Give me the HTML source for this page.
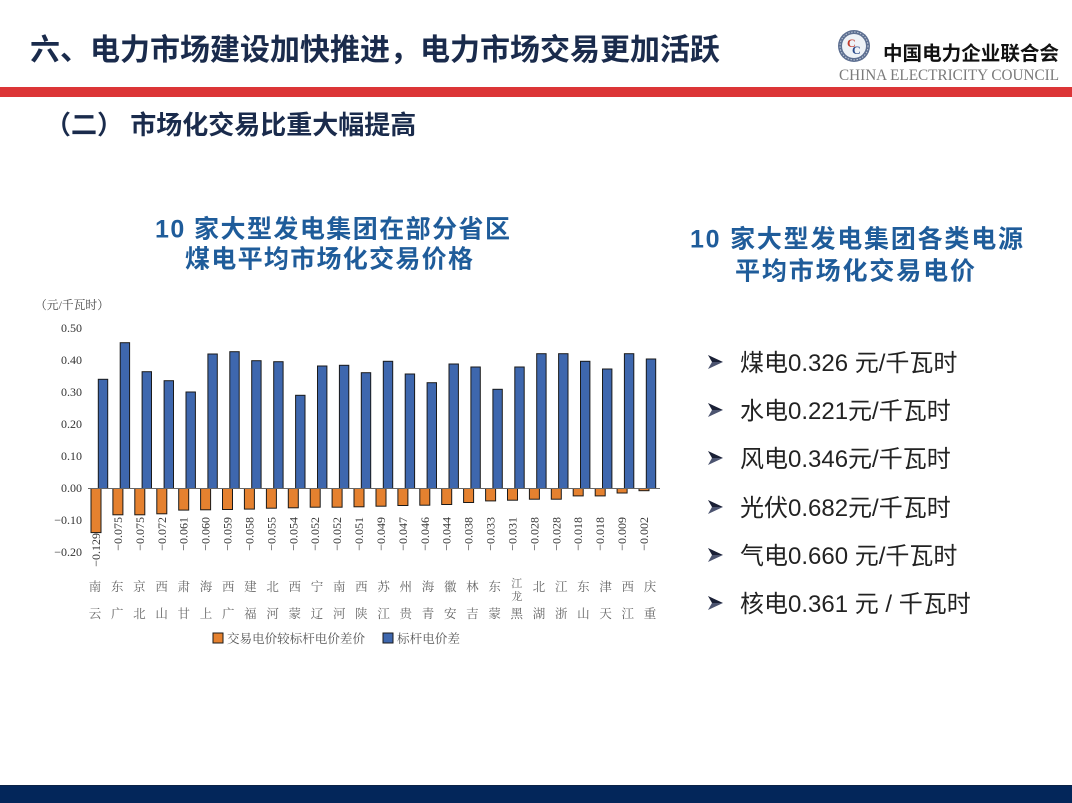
<!DOCTYPE html>
<html><head><meta charset="utf-8"><style>
html,body{margin:0;padding:0;background:#fff;}
svg{display:block;}
.t{font-family:"Liberation Sans","Noto Sans CJK SC",sans-serif;font-weight:bold;}
.s{font-family:"Liberation Serif","Noto Serif CJK SC",serif;}
.yl{font-family:"Liberation Serif",serif;font-size:12px;fill:#333;text-anchor:end;}
.vl{font-family:"Liberation Serif",serif;font-size:12px;fill:#333;text-anchor:end;dominant-baseline:central;}
.cl{font-family:"Noto Serif CJK SC","Liberation Serif",serif;font-size:12.5px;fill:#666;text-anchor:middle;}
.b{fill:#3e67ae;stroke:#1a1a1a;stroke-width:1;}
.o{fill:#e5812f;stroke:#1a1a1a;stroke-width:1;}
.li{font-family:"Liberation Sans","Noto Sans CJK SC",sans-serif;font-size:24px;fill:#222;}
</style></head><body>
<svg width="1072" height="803" viewBox="0 0 1072 803" xmlns="http://www.w3.org/2000/svg">
<rect width="1072" height="803" fill="#fff"/>
<!-- header -->
<text class="t" x="30" y="60" font-size="30" fill="#1a2b4c" textLength="690" lengthAdjust="spacingAndGlyphs">六、电力市场建设加快推进，电力市场交易更加活跃</text>
<!-- logo -->
<circle cx="854" cy="46" r="16" fill="#5d6f91"/>
<circle cx="854" cy="46" r="12" fill="#eef2f7"/>
<circle cx="854" cy="46" r="14" fill="none" stroke="#c9d2e0" stroke-width="0.9" stroke-dasharray="1.5 1.5"/>
<text x="847" y="47" font-family="Liberation Serif,serif" font-size="12" fill="#c0392b" font-weight="bold">C</text>
<text x="852" y="54" font-family="Liberation Serif,serif" font-size="12" fill="#2a4a8a" font-weight="bold">C</text>
<text class="t" x="883" y="60" font-size="19.5" fill="#111" textLength="176" lengthAdjust="spacingAndGlyphs">中国电力企业联合会</text>
<text x="839" y="80" font-family="Liberation Serif,serif" font-size="16" fill="#7a7a7a" textLength="220" lengthAdjust="spacingAndGlyphs">CHINA ELECTRICITY COUNCIL</text>
<rect x="0" y="87" width="1072" height="10" fill="#dc3537"/>
<text class="t" x="45" y="134" font-size="26" fill="#1a2b4c">（二） 市场化交易比重大幅提高</text>

<!-- left chart title -->
<text class="t" x="155" y="237.5" font-size="25" fill="#1f5c9a" textLength="355" lengthAdjust="spacing">10 家大型发电集团在部分省区</text>
<text class="t" x="185" y="267.5" font-size="25" fill="#1f5c9a" textLength="288" lengthAdjust="spacing">煤电平均市场化交易价格</text>

<!-- right title -->
<text class="t" x="690" y="247.5" font-size="25" fill="#1f5c9a" textLength="333" lengthAdjust="spacing">10 家大型发电集团各类电源</text>
<text class="t" x="735" y="279.5" font-size="25" fill="#1f5c9a" textLength="240" lengthAdjust="spacing">平均市场化交易电价</text>

<!-- right list -->
<g>
<polygon points="708,355 723,362 712,362" fill="#1a2036"/><polygon points="708,369 723,362 712,362" fill="#4c5470"/>
<text class="li" x="740" y="371">煤电0.326 元/千瓦时</text>
<polygon points="708,403 723,410 712,410" fill="#1a2036"/><polygon points="708,417 723,410 712,410" fill="#4c5470"/>
<text class="li" x="740" y="419">水电0.221元/千瓦时</text>
<polygon points="708,451 723,458 712,458" fill="#1a2036"/><polygon points="708,465 723,458 712,458" fill="#4c5470"/>
<text class="li" x="740" y="467">风电0.346元/千瓦时</text>
<polygon points="708,500 723,507 712,507" fill="#1a2036"/><polygon points="708,514 723,507 712,507" fill="#4c5470"/>
<text class="li" x="740" y="516">光伏0.682元/千瓦时</text>
<polygon points="708,548 723,555 712,555" fill="#1a2036"/><polygon points="708,562 723,555 712,555" fill="#4c5470"/>
<text class="li" x="740" y="564">气电0.660 元/千瓦时</text>
<polygon points="708,596 723,603 712,603" fill="#1a2036"/><polygon points="708,610 723,603 712,603" fill="#4c5470"/>
<text class="li" x="740" y="612">核电0.361 元 / 千瓦时</text>
</g>

<!-- chart -->
<text class="s" x="35" y="309" font-size="12" fill="#444" textLength="74" lengthAdjust="spacingAndGlyphs">（元/千瓦时）</text>
<text class="yl" x="82" y="332">0.50</text>
<text class="yl" x="82" y="364">0.40</text>
<text class="yl" x="82" y="396">0.30</text>
<text class="yl" x="82" y="428">0.20</text>
<text class="yl" x="82" y="460">0.10</text>
<text class="yl" x="82" y="492">0.00</text>
<text class="yl" x="82" y="524">−0.10</text>
<text class="yl" x="82" y="556">−0.20</text>

<!-- blue bars -->
<rect class="b" x="98.3" y="379.3" width="9.4" height="109.2"/>
<rect class="b" x="120.2" y="342.7" width="9.4" height="145.8"/>
<rect class="b" x="142.1" y="371.7" width="9.4" height="116.8"/>
<rect class="b" x="164.1" y="380.7" width="9.4" height="107.8"/>
<rect class="b" x="186.0" y="392.0" width="9.4" height="96.5"/>
<rect class="b" x="207.9" y="354.0" width="9.4" height="134.5"/>
<rect class="b" x="229.8" y="351.7" width="9.4" height="136.8"/>
<rect class="b" x="251.7" y="360.7" width="9.4" height="127.8"/>
<rect class="b" x="273.7" y="361.7" width="9.4" height="126.8"/>
<rect class="b" x="295.6" y="395.3" width="9.4" height="93.2"/>
<rect class="b" x="317.5" y="366.0" width="9.4" height="122.5"/>
<rect class="b" x="339.4" y="365.3" width="9.4" height="123.2"/>
<rect class="b" x="361.3" y="372.7" width="9.4" height="115.8"/>
<rect class="b" x="383.3" y="361.3" width="9.4" height="127.2"/>
<rect class="b" x="405.2" y="374.0" width="9.4" height="114.5"/>
<rect class="b" x="427.1" y="382.7" width="9.4" height="105.8"/>
<rect class="b" x="449.0" y="364.0" width="9.4" height="124.5"/>
<rect class="b" x="470.9" y="367.0" width="9.4" height="121.5"/>
<rect class="b" x="492.9" y="389.3" width="9.4" height="99.2"/>
<rect class="b" x="514.8" y="367.0" width="9.4" height="121.5"/>
<rect class="b" x="536.7" y="353.7" width="9.4" height="134.8"/>
<rect class="b" x="558.6" y="353.7" width="9.4" height="134.8"/>
<rect class="b" x="580.5" y="361.3" width="9.4" height="127.2"/>
<rect class="b" x="602.5" y="369.0" width="9.4" height="119.5"/>
<rect class="b" x="624.4" y="353.7" width="9.4" height="134.8"/>
<rect class="b" x="646.3" y="359.0" width="9.4" height="129.5"/>

<!-- orange bars -->
<rect class="o" x="91.0" y="488.5" width="10" height="44.1"/>
<rect class="o" x="112.9" y="488.5" width="10" height="26.3"/>
<rect class="o" x="134.8" y="488.5" width="10" height="26.3"/>
<rect class="o" x="156.8" y="488.5" width="10" height="25.3"/>
<rect class="o" x="178.7" y="488.5" width="10" height="21.6"/>
<rect class="o" x="200.6" y="488.5" width="10" height="21.3"/>
<rect class="o" x="222.5" y="488.5" width="10" height="21.0"/>
<rect class="o" x="244.4" y="488.5" width="10" height="20.6"/>
<rect class="o" x="266.4" y="488.5" width="10" height="19.7"/>
<rect class="o" x="288.3" y="488.5" width="10" height="19.3"/>
<rect class="o" x="310.2" y="488.5" width="10" height="18.7"/>
<rect class="o" x="332.1" y="488.5" width="10" height="18.7"/>
<rect class="o" x="354.0" y="488.5" width="10" height="18.3"/>
<rect class="o" x="376.0" y="488.5" width="10" height="17.7"/>
<rect class="o" x="397.9" y="488.5" width="10" height="17.0"/>
<rect class="o" x="419.8" y="488.5" width="10" height="16.7"/>
<rect class="o" x="441.7" y="488.5" width="10" height="16.0"/>
<rect class="o" x="463.6" y="488.5" width="10" height="14.0"/>
<rect class="o" x="485.6" y="488.5" width="10" height="12.4"/>
<rect class="o" x="507.5" y="488.5" width="10" height="11.7"/>
<rect class="o" x="529.4" y="488.5" width="10" height="10.7"/>
<rect class="o" x="551.3" y="488.5" width="10" height="10.7"/>
<rect class="o" x="573.2" y="488.5" width="10" height="7.4"/>
<rect class="o" x="595.2" y="488.5" width="10" height="7.4"/>
<rect class="o" x="617.1" y="488.5" width="10" height="4.5"/>
<rect class="o" x="639.0" y="488.5" width="10" height="2.2"/>

<line x1="88" y1="488.5" x2="660" y2="488.5" stroke="#666" stroke-width="1"/>

<!-- value labels -->
<text class="vl" transform="translate(96,533) rotate(-90)">−0.129</text>
<text class="vl" transform="translate(117.9,517) rotate(-90)">−0.075</text>
<text class="vl" transform="translate(139.8,517) rotate(-90)">−0.075</text>
<text class="vl" transform="translate(161.8,517) rotate(-90)">−0.072</text>
<text class="vl" transform="translate(183.7,517) rotate(-90)">−0.061</text>
<text class="vl" transform="translate(205.6,517) rotate(-90)">−0.060</text>
<text class="vl" transform="translate(227.5,517) rotate(-90)">−0.059</text>
<text class="vl" transform="translate(249.4,517) rotate(-90)">−0.058</text>
<text class="vl" transform="translate(271.4,517) rotate(-90)">−0.055</text>
<text class="vl" transform="translate(293.3,517) rotate(-90)">−0.054</text>
<text class="vl" transform="translate(315.2,517) rotate(-90)">−0.052</text>
<text class="vl" transform="translate(337.1,517) rotate(-90)">−0.052</text>
<text class="vl" transform="translate(359.0,517) rotate(-90)">−0.051</text>
<text class="vl" transform="translate(381.0,517) rotate(-90)">−0.049</text>
<text class="vl" transform="translate(402.9,517) rotate(-90)">−0.047</text>
<text class="vl" transform="translate(424.8,517) rotate(-90)">−0.046</text>
<text class="vl" transform="translate(446.7,517) rotate(-90)">−0.044</text>
<text class="vl" transform="translate(468.6,517) rotate(-90)">−0.038</text>
<text class="vl" transform="translate(490.6,517) rotate(-90)">−0.033</text>
<text class="vl" transform="translate(512.5,517) rotate(-90)">−0.031</text>
<text class="vl" transform="translate(534.4,517) rotate(-90)">−0.028</text>
<text class="vl" transform="translate(556.3,517) rotate(-90)">−0.028</text>
<text class="vl" transform="translate(578.2,517) rotate(-90)">−0.018</text>
<text class="vl" transform="translate(600.2,517) rotate(-90)">−0.018</text>
<text class="vl" transform="translate(622.1,517) rotate(-90)">−0.009</text>
<text class="vl" transform="translate(644.0,517) rotate(-90)">−0.002</text>

<!-- category labels (row1: 2nd char, row2: 1st char) -->
<g class="cl">
<text x="95.0" y="591">南</text><text x="95.0" y="618">云</text>
<text x="117.2" y="591">东</text><text x="117.2" y="618">广</text>
<text x="139.4" y="591">京</text><text x="139.4" y="618">北</text>
<text x="161.6" y="591">西</text><text x="161.6" y="618">山</text>
<text x="183.8" y="591">肃</text><text x="183.8" y="618">甘</text>
<text x="206.0" y="591">海</text><text x="206.0" y="618">上</text>
<text x="228.2" y="591">西</text><text x="228.2" y="618">广</text>
<text x="250.4" y="591">建</text><text x="250.4" y="618">福</text>
<text x="272.6" y="591">北</text><text x="272.6" y="618">河</text>
<text x="294.8" y="591">西</text><text x="294.8" y="618">蒙</text>
<text x="317.0" y="591">宁</text><text x="317.0" y="618">辽</text>
<text x="339.2" y="591">南</text><text x="339.2" y="618">河</text>
<text x="361.4" y="591">西</text><text x="361.4" y="618">陕</text>
<text x="383.6" y="591">苏</text><text x="383.6" y="618">江</text>
<text x="405.8" y="591">州</text><text x="405.8" y="618">贵</text>
<text x="428.0" y="591">海</text><text x="428.0" y="618">青</text>
<text x="450.2" y="591">徽</text><text x="450.2" y="618">安</text>
<text x="472.4" y="591">林</text><text x="472.4" y="618">吉</text>
<text x="494.6" y="591">东</text><text x="494.6" y="618">蒙</text>
<text x="516.8" y="587" font-size="11">江</text><text x="516.8" y="600" font-size="11">龙</text><text x="516.8" y="618">黑</text>
<text x="539.0" y="591">北</text><text x="539.0" y="618">湖</text>
<text x="561.2" y="591">江</text><text x="561.2" y="618">浙</text>
<text x="583.4" y="591">东</text><text x="583.4" y="618">山</text>
<text x="605.6" y="591">津</text><text x="605.6" y="618">天</text>
<text x="627.8" y="591">西</text><text x="627.8" y="618">江</text>
<text x="650.0" y="591">庆</text><text x="650.0" y="618">重</text>
</g>

<!-- legend -->
<rect x="213" y="633" width="10" height="10" fill="#e5812f" stroke="#1a1a1a" stroke-width="1"/>
<text class="s" x="227" y="643" font-size="12.5" fill="#555" textLength="138" lengthAdjust="spacingAndGlyphs">交易电价较标杆电价差价</text>
<rect x="383" y="633" width="10" height="10" fill="#3e67ae" stroke="#1a1a1a" stroke-width="1"/>
<text class="s" x="397" y="643" font-size="12.5" fill="#555" textLength="63" lengthAdjust="spacingAndGlyphs">标杆电价差</text>

<!-- bottom bar -->
<rect x="0" y="785" width="1072" height="18" fill="#03265a"/>
<rect x="0" y="785" width="1072" height="1" fill="#0b2246"/>
</svg>
</body></html>
